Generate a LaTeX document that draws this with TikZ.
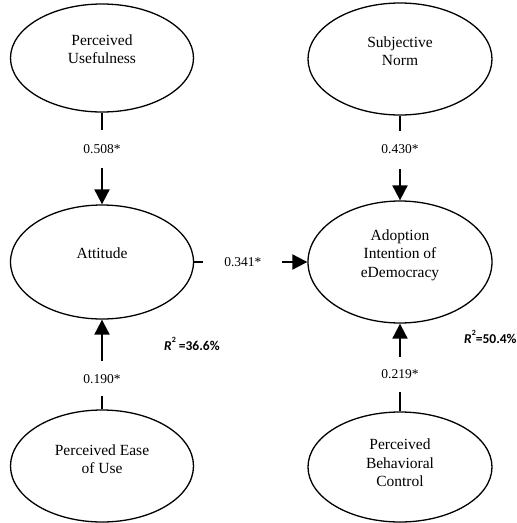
\documentclass[tikz,border=0pt]{standalone}
\usepackage{fontspec}
\setmainfont{Liberation Serif}
\newfontfamily\califont{Carlito}
\usetikzlibrary{arrows.meta,shapes.geometric}
\begin{document}
\begin{tikzpicture}[x=1pt,y=-1pt,
  latent/.style={ellipse,draw,line width=1.3pt,inner sep=0pt},
  ltext/.style={align=center,font=\fontsize{15.5}{18.5}\selectfont,yshift=7pt},
  causal/.style={line width=2pt,-{Triangle[length=15pt,width=15pt]}},
  coef/.style={fill=white,inner sep=0pt,font=\fontsize{13.5}{15}\selectfont},
  rsq/.style={anchor=west,inner sep=0pt,font=\califont\bfseries\fontsize{13.5}{15}\selectfont}
]
\useasboundingbox (0,0) rectangle (517,523);

\node[latent,minimum width=183pt,minimum height=108pt,
  label={[ltext,yshift=2pt]center:{Perceived\\Usefulness}}] (pu) at (102,58) {};
\node[latent,minimum width=183pt,minimum height=114pt,
  label={[ltext,yshift=2pt]center:{Attitude}}] (att) at (102,262) {};
\node[latent,minimum width=183pt,minimum height=112pt,
  label={[ltext]center:{Perceived Ease\\of Use}}] (peou) at (102,466) {};
\node[latent,minimum width=184pt,minimum height=112pt,
  label={[ltext,yshift=1pt]center:{Subjective\\Norm}}] (sn) at (400,59) {};
\node[latent,minimum width=184pt,minimum height=122pt,
  label={[ltext]center:{Adoption\\Intention of\\eDemocracy}}] (adopt) at (400,262) {};
\node[latent,minimum width=184pt,minimum height=110pt,
  label={[ltext,yshift=-3pt]center:{Perceived\\Behavioral\\Control}}] (pbc) at (400,467) {};

\draw[causal] (pu) -- node[coef,pos=0.40,minimum height=38pt]{0.508*} (att);
\draw[causal] (att) -- node[coef,pos=0.43,minimum width=79pt]{0.341*} (adopt);
\draw[causal] (peou) -- node[coef,pos=0.34,minimum height=35pt]{0.190*} (att);
\draw[causal] (sn) -- node[coef,pos=0.40,minimum height=38pt]{0.430*} (adopt);
\draw[causal] (pbc) -- node[coef,pos=0.42,minimum height=35pt]{0.219*} (adopt);

\node[rsq] (r2att) at (164,344) {\textit{R}\raisebox{0.55em}{\fontsize{8}{8}\selectfont 2} =36.6\%};
\node[rsq] (r2ado) at (464,337) {\textit{R}\raisebox{0.55em}{\fontsize{8}{8}\selectfont 2}=50.4\%};
\end{tikzpicture}
\end{document}
